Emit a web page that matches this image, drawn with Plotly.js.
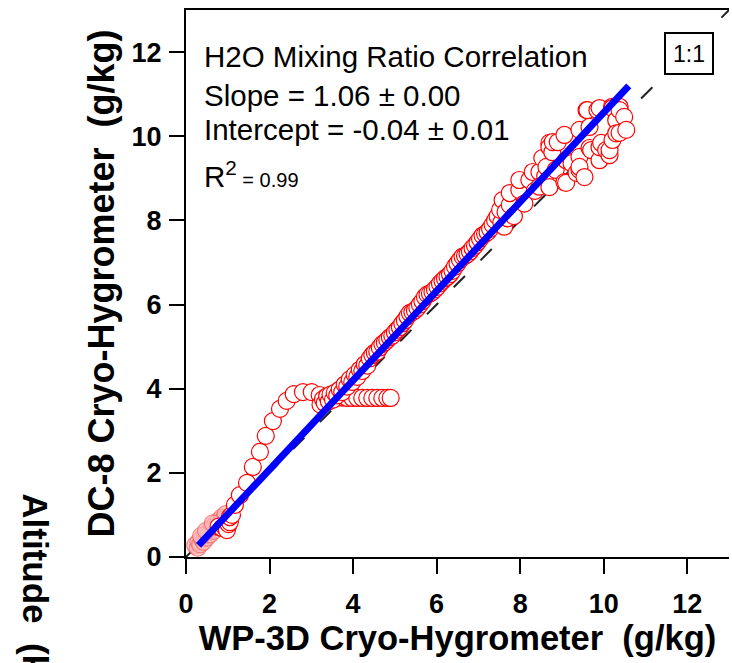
<!DOCTYPE html>
<html>
<head>
<meta charset="utf-8">
<script src="https://cdn.plot.ly/plotly-3.0.1.min.js"></script>
<style>html,body{margin:0;padding:0;background:#fff;}#chart{width:732px;height:663px;}</style>
</head>
<body>
<div id="chart"></div>
<script>
// Pinkish low-humidity points near the origin
const xLow = [0.22,0.28,0.30,0.34,0.38,0.42,0.46,0.50,0.54,0.58,0.62,0.66,0.70,0.74,0.78,0.82,0.86,0.90,0.95,0.36,0.48,0.64];
const yLow = [0.28,0.22,0.36,0.30,0.44,0.36,0.52,0.46,0.60,0.54,0.70,0.62,0.78,0.72,0.86,0.80,0.94,0.90,1.02,0.50,0.62,0.80];

// Main red open-circle points (WP-3D vs DC-8)
const xMain = [
  0.78,0.86,0.92,0.98,1.02,1.05,1.05,1.10,
  1.17,1.29,1.46,1.60,1.77,1.91,2.08,2.25,2.41,2.58,2.80,3.01,3.20,3.35,
  3.50,3.62,3.74,3.86,3.98,4.10,4.22,4.34,4.46,4.58,4.70,4.82,4.90,
  3.22,3.28,3.32,3.38,3.42,3.46,3.52,3.56,3.62,3.68,3.74,3.80,3.86,3.92,3.98,4.04,4.10,4.16,4.22,4.28,4.34,4.40,4.46,4.52,4.58,4.64,4.70,4.76,4.82,4.88,4.94,
  5.00,5.06,5.12,5.18,5.24,5.30,5.36,5.42,5.48,5.54,5.60,5.66,5.72,5.78,5.84,5.90,5.96,6.02,6.08,6.14,6.20,6.26,6.32,6.38,6.44,6.50,6.56,6.62,6.68,6.74,6.80,6.86,6.92,6.98,
  7.04,7.10,7.16,7.22,7.28,7.34,7.40,7.46,7.55,7.62,7.70,
  7.52,7.58,7.65,7.75,7.75,7.85,7.98,7.98,8.10,8.22,8.30,8.35,8.46,8.46,8.53,8.60,8.63,8.70,8.70,8.70,8.77,8.78,8.90,8.85,
  9.06,9.06,9.10,9.10,9.23,9.35,9.42,9.42,9.42,9.42,9.54,9.59,9.61,9.66,9.66,9.70,9.85,9.90,9.90,9.94,9.90,
  10.06,10.14,10.14,10.20,10.21,10.21,10.30,10.30,10.38,10.38,10.38,10.49,10.54
];
const yMain = [
  0.72,0.69,0.72,0.64,0.78,0.83,0.95,1.00,
  1.24,1.47,1.76,2.14,2.50,2.88,3.23,3.52,3.71,3.87,3.92,3.92,3.85,3.80,
  3.80,3.79,3.79,3.78,3.78,3.78,3.78,3.78,3.78,3.78,3.78,3.78,3.78,
  3.62,3.75,3.66,3.82,3.70,3.86,3.74,3.90,3.84,3.98,3.92,4.10,4.05,4.22,4.16,4.33,4.28,4.45,4.42,4.58,4.55,4.72,4.80,4.86,4.88,4.98,5.06,5.10,5.16,5.22,5.26,
  5.34,5.40,5.46,5.55,5.62,5.72,5.80,5.82,5.86,5.92,6.00,6.08,6.18,6.24,6.26,6.30,6.36,6.42,6.50,6.56,6.62,6.66,6.72,6.80,6.90,6.98,7.06,7.14,7.16,7.20,7.26,7.34,7.40,7.48,
  7.56,7.64,7.68,7.72,7.80,7.90,8.00,8.10,7.95,7.85,8.05,
  8.25,8.48,8.20,8.37,8.65,8.10,8.72,8.96,8.40,8.96,9.15,8.70,9.15,8.80,9.48,9.05,9.27,9.84,9.74,8.79,9.62,9.86,9.86,9.20,
  10.03,8.91,9.43,8.89,9.36,9.13,9.51,9.20,9.27,10.15,9.03,10.62,10.62,10.22,9.72,9.67,10.62,9.43,9.74,9.84,10.67,
  9.67,9.55,9.67,10.70,10.67,9.91,10.38,10.07,10.70,10.62,10.08,10.46,10.15
];

// Linear fit and 1:1 reference
const fitSlope = 1.06;
const fitIntercept = -0.04;
const fitXRange = [0.3, 10.6];
const oneToOne = [0, 13];

const xTicks = [0, 2, 4, 6, 8, 10, 12];
const yTicks = [0, 2, 4, 6, 8, 10, 12];

const fitY = fitXRange.map(v => fitSlope * v + fitIntercept);

const FONT = 'Liberation Sans, Arial, sans-serif';

const traces = [
  {x: oneToOne, y: oneToOne, mode: 'lines', line: {color: '#222', width: 2, dash: '16px,22px'}, hoverinfo: 'skip'},
  {x: xLow, y: yLow, mode: 'markers', marker: {symbol: 'circle', size: 17, color: 'rgba(252,190,190,0.7)', line: {color: 'rgba(240,100,100,0.75)', width: 1.2}}},
  {x: xMain, y: yMain, mode: 'markers', marker: {symbol: 'circle', size: 17, color: '#ffffff', line: {color: '#ff0000', width: 1.2}}},
  {x: fitXRange, y: fitY, mode: 'lines', line: {color: '#0000ff', width: 7}}
];

const axisCommon = {
  range: [0, 13], showgrid: false, zeroline: false, showline: true, linecolor: '#000', linewidth: 2,
  ticks: 'outside', ticklen: 15, tickwidth: 2, tickcolor: '#000',
  tickfont: {family: FONT, size: 27, weight: 700, color: '#000'}
};

const layout = {
  width: 732, height: 663,
  margin: {l: 186, r: 3, t: 10, b: 106},
  paper_bgcolor: '#fff', plot_bgcolor: '#fff',
  showlegend: false,
  xaxis: Object.assign({}, axisCommon, {
    tickvals: xTicks, ticktext: xTicks.map(String), mirror: true, ticklabelstandoff: 7,
    title: {text: 'WP-3D Cryo-Hygrometer  (g/kg)', font: {family: FONT, size: 34.5, weight: 700, color: '#000'}, standoff: 5}
  }),
  yaxis: Object.assign({}, axisCommon, {
    tickvals: yTicks, ticktext: yTicks.map(String), mirror: false, ticklabelstandoff: 2,
    title: {text: 'DC-8 Cryo-Hygrometer  (g/kg)', font: {family: FONT, size: 36, weight: 700, color: '#000'}, standoff: 6}
  }),
  annotations: [
    {xref: 'x', yref: 'y', x: 0.38, y: 11.9, xanchor: 'left', yanchor: 'middle', showarrow: false,
     text: 'H2O Mixing Ratio Correlation', font: {family: FONT, size: 29.5, color: '#000'}},
    {xref: 'x', yref: 'y', x: 0.38, y: 10.96, xanchor: 'left', yanchor: 'middle', showarrow: false,
     text: 'Slope = 1.06 ± 0.00', font: {family: FONT, size: 29.5, color: '#000'}},
    {xref: 'x', yref: 'y', x: 0.38, y: 10.16, xanchor: 'left', yanchor: 'middle', showarrow: false,
     text: 'Intercept = -0.04 ± 0.01', font: {family: FONT, size: 29.5, color: '#000'}},
    {xref: 'x', yref: 'y', x: 0.38, y: 9.08, xanchor: 'left', yanchor: 'middle', showarrow: false,
     text: "R<sup>2</sup><span style='font-size:20px'> = 0.99</span>", font: {family: FONT, size: 29.5, color: '#000'}},
    {xref: 'x', yref: 'y', x: 12.05, y: 11.97, xanchor: 'center', yanchor: 'middle', showarrow: false,
     text: '1:1', width: 46, height: 39, borderpad: 0, bordercolor: '#000', borderwidth: 2, bgcolor: '#fff',
     font: {family: FONT, size: 23, color: '#000'}},
    {xref: 'paper', yref: 'paper', x: -0.276, y: 0.12, xanchor: 'center', yanchor: 'top', showarrow: false,
     textangle: 90, text: 'Altitude  (km)', font: {family: FONT, size: 35, weight: 700, color: '#000'}}
  ]
};

Plotly.newPlot('chart', traces, layout, {displayModeBar: false, staticPlot: true});
</script>
</body>
</html>
